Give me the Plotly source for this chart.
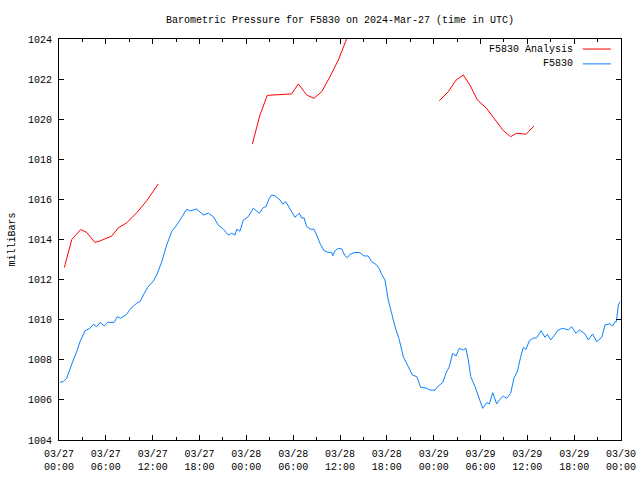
import plotly.graph_objects as go

# ---------------- data ----------------
station_times = [
    "03-27 00:08", "03-27 00:33", "03-27 00:59", "03-27 01:25", "03-27 01:50", "03-27 02:16",
    "03-27 02:41", "03-27 03:20", "03-27 03:58", "03-27 04:24", "03-27 04:50", "03-27 05:15",
    "03-27 05:48", "03-27 06:14", "03-27 07:05", "03-27 07:28", "03-27 07:54", "03-27 08:40",
    "03-27 09:13", "03-27 09:57", "03-27 10:23", "03-27 10:48", "03-27 11:22", "03-27 12:05",
    "03-27 12:31", "03-27 13:10", "03-27 13:48", "03-27 14:26", "03-27 15:05", "03-27 15:43",
    "03-27 16:22", "03-27 16:47", "03-27 17:38", "03-27 18:29", "03-27 19:08", "03-27 19:46",
    "03-27 20:24", "03-27 21:03", "03-27 21:41", "03-27 22:07", "03-27 22:33", "03-27 22:46",
    "03-27 23:11", "03-27 23:37",
    "03-28 00:15", "03-28 00:53", "03-28 01:40", "03-28 02:10", "03-28 02:31", "03-28 02:56",
    "03-28 03:15", "03-28 03:40", "03-28 04:19", "03-28 04:40", "03-28 05:03", "03-28 05:36",
    "03-28 06:14", "03-28 06:47", "03-28 07:06", "03-28 07:23", "03-28 07:44", "03-28 08:10",
    "03-28 08:40", "03-28 09:01", "03-28 09:26", "03-28 09:57", "03-28 10:30", "03-28 10:56",
    "03-28 11:04", "03-28 11:22", "03-28 11:47", "03-28 12:13", "03-28 12:38", "03-28 12:56",
    "03-28 13:17", "03-28 13:55", "03-28 14:34", "03-28 15:04", "03-28 15:37", "03-28 16:04",
    "03-28 16:42", "03-28 17:07", "03-28 17:20", "03-28 17:46", "03-28 18:11", "03-28 18:37",
    "03-28 19:03", "03-28 19:36", "03-28 20:07", "03-28 20:45", "03-28 21:16", "03-28 21:50",
    "03-28 22:20", "03-28 23:07", "03-28 23:32",
    "03-29 00:10", "03-29 00:35", "03-29 01:09", "03-29 01:35", "03-29 02:00", "03-29 02:26",
    "03-29 02:52", "03-29 03:17", "03-29 03:48", "03-29 04:08", "03-29 04:26", "03-29 04:45",
    "03-29 05:18", "03-29 05:43", "03-29 06:04", "03-29 06:17", "03-29 06:48", "03-29 07:08",
    "03-29 07:34", "03-29 08:04", "03-29 08:25", "03-29 08:55", "03-29 09:21", "03-29 09:52",
    "03-29 10:17", "03-29 10:43", "03-29 11:09", "03-29 11:29", "03-29 11:50", "03-29 12:15",
    "03-29 12:41", "03-29 13:12", "03-29 13:45", "03-29 14:16", "03-29 14:34", "03-29 15:00",
    "03-29 15:25", "03-29 15:58", "03-29 16:32", "03-29 17:15", "03-29 17:41", "03-29 18:14",
    "03-29 18:40", "03-29 19:23", "03-29 19:49", "03-29 20:22", "03-29 20:53", "03-29 21:32",
    "03-29 21:57", "03-29 22:35", "03-29 22:56", "03-29 23:14", "03-29 23:24", "03-29 23:40",
    "03-29 23:53",
]
station_mb = [
    1006.88, 1006.91, 1007.08, 1007.58, 1007.99, 1008.40,
    1008.90, 1009.45, 1009.57, 1009.77, 1009.65, 1009.87,
    1009.69, 1009.87, 1009.87, 1010.15, 1010.07, 1010.27,
    1010.57, 1010.82, 1010.90, 1011.23, 1011.62, 1011.93,
    1012.23, 1012.89, 1013.73, 1014.39, 1014.72, 1015.11,
    1015.51, 1015.42, 1015.52, 1015.22, 1015.31, 1015.14,
    1014.72, 1014.52, 1014.22, 1014.31, 1014.22, 1014.51,
    1014.42, 1014.97,
    1015.14, 1015.56, 1015.31, 1015.59, 1015.64, 1016.05,
    1016.22, 1016.18, 1015.97, 1015.76, 1015.89, 1015.52,
    1015.11, 1015.31, 1015.06, 1015.09, 1014.64, 1014.52,
    1014.51, 1014.22, 1013.81, 1013.44, 1013.36, 1013.36,
    1013.19, 1013.44, 1013.56, 1013.53, 1013.19, 1013.09,
    1013.26, 1013.36, 1013.34, 1013.18, 1013.18, 1012.89,
    1012.73, 1012.48, 1012.26, 1011.98, 1010.98, 1010.32,
    1009.65, 1008.99, 1008.15, 1007.66, 1007.24, 1007.16,
    1006.63, 1006.58, 1006.49,
    1006.49, 1006.69, 1006.86, 1007.33, 1007.66, 1008.32,
    1008.19, 1008.57, 1008.49, 1008.57, 1007.99, 1007.16,
    1006.66, 1006.24, 1005.83, 1005.58, 1005.86, 1005.80,
    1006.36, 1005.80, 1006.00, 1006.19, 1006.08, 1006.33,
    1007.08, 1007.41, 1008.15, 1008.62, 1008.52, 1008.95,
    1009.07, 1009.10, 1009.45, 1009.12, 1009.27, 1008.99,
    1009.20, 1009.49, 1009.57, 1009.49, 1009.65, 1009.32,
    1009.49, 1009.29, 1008.99, 1009.29, 1008.90, 1009.12,
    1009.74, 1009.79, 1009.69, 1009.90, 1009.90, 1010.73,
    1010.90,
]

# analysis (None separates the three runs)
analysis_times = [
    "03-27 00:41", "03-27 01:38", "03-27 02:47", "03-27 03:33", "03-27 04:37", "03-27 05:28",
    "03-27 06:45", "03-27 07:36", "03-27 08:40", "03-27 09:57", "03-27 11:14", "03-27 12:43",
    "03-27 18:00",
    "03-28 00:46", "03-28 01:45", "03-28 02:41", "03-28 04:11", "03-28 05:48", "03-28 06:40",
    "03-28 07:44", "03-28 08:40", "03-28 09:39", "03-28 10:43", "03-28 11:47", "03-28 12:43",
    "03-28 13:42",
    "03-28 18:00",
    "03-29 00:43", "03-29 01:52", "03-29 02:52", "03-29 03:48", "03-29 04:39", "03-29 05:36",
    "03-29 06:47", "03-29 07:51", "03-29 08:55", "03-29 09:52", "03-29 10:38", "03-29 11:50",
    "03-29 12:51",
]
analysis_mb = [
    1012.60, 1014.00, 1014.50, 1014.35, 1013.85, 1013.96,
    1014.17, 1014.58, 1014.83, 1015.33, 1015.93, 1016.77,
    None,
    1018.76, 1020.21, 1021.19, 1021.24, 1021.26, 1021.76,
    1021.21, 1021.04, 1021.37, 1022.12, 1022.95, 1023.87,
    1025.00,
    None,
    1020.92, 1021.37, 1021.95, 1022.20, 1021.70, 1020.96,
    1020.54, 1019.96, 1019.43, 1019.13, 1019.30, 1019.25,
    1019.66,
]

series_names = ["F5830 Analysis", "F5830"]
series_colors = ["#ff0000", "#0a80ff"]
title_text = "Barometric Pressure for F5830 on 2024-Mar-27 (time in UTC)"
y_title = "milliBars"

# ---------------- figure ----------------
FONT = "Liberation Mono"

def full(ts):
    return ["2024-" + t for t in ts]

fig = go.Figure()
fig.add_trace(go.Scatter(x=full(analysis_times), y=analysis_mb, mode="lines",
                         line=dict(color=series_colors[0], width=1),
                         connectgaps=False, name=series_names[0], showlegend=False))
fig.add_trace(go.Scatter(x=full(station_times), y=station_mb, mode="lines",
                         line=dict(color=series_colors[1], width=1),
                         name=series_names[1], showlegend=False))

# legend drawn gnuplot-style (text right, sample line to its right)
leg_y = [0.975, 0.938]
for name, col, yy in zip(series_names, series_colors, leg_y):
    fig.add_annotation(text=name, xref="paper", yref="paper", x=0.919, y=yy,
                       xanchor="right", yanchor="middle", showarrow=False,
                       font=dict(family=FONT, size=10, color="black"))
    fig.add_shape(type="line", xref="paper", yref="paper", x0=0.932, x1=0.982,
                  y0=yy, y1=yy, line=dict(color=col, width=1))

fig.add_annotation(text=y_title, xref="paper", yref="paper", x=-0.0836, y=0.5,
                   textangle=-90, xanchor="center", yanchor="middle", showarrow=False,
                   font=dict(family=FONT, size=10, color="black"))

fig.update_layout(
    width=640, height=480,
    margin=dict(l=59, r=19, t=39, b=40, pad=0, autoexpand=False),
    paper_bgcolor="white", plot_bgcolor="white",
    font=dict(family=FONT, size=10, color="black"),
    title=dict(text=title_text, x=0.5, xref="paper", y=1 - 19 / 480, yref="container",
               xanchor="center", yanchor="middle", font=dict(family=FONT, size=10)),
    showlegend=False,
)
fig.update_xaxes(
    type="date", range=["2024-03-27 00:00", "2024-03-30 00:00"],
    dtick=6 * 3600 * 1000, tick0="2024-03-27 00:00", tickformat="%m/%d<br>%H:%M",
    ticks="inside", ticklen=5, tickcolor="black", tickwidth=1,
    minor=dict(dtick=3 * 3600 * 1000, ticks="inside", ticklen=3, tickcolor="black"),
    showline=True, linecolor="black", linewidth=1, mirror="ticks",
    showgrid=False, zeroline=False, ticklabelstandoff=4, automargin=False,
)
fig.update_yaxes(
    range=[1004, 1024], dtick=2, tick0=1004, tickformat="d",
    ticks="inside", ticklen=5, tickcolor="black", tickwidth=1,
    showline=True, linecolor="black", linewidth=1, mirror="ticks",
    showgrid=False, zeroline=False, ticklabelstandoff=4, automargin=False,
)

fig.write_html("out.html")
